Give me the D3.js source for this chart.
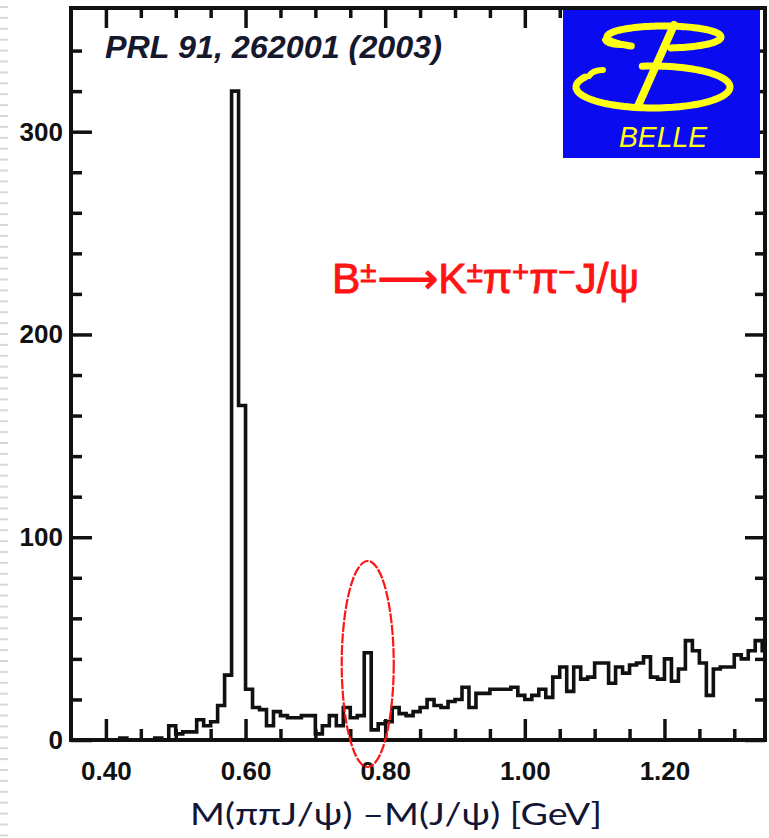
<!DOCTYPE html>
<html><head><meta charset="utf-8">
<script src="https://cdn.jsdelivr.net/npm/d3@7/dist/d3.min.js"></script>
<style>
html,body{margin:0;padding:0;background:#fff;}
svg{display:block;}
</style>
</head><body>
<svg id="chart" width="769" height="838"></svg>
<script>
// Histogram of M(pi pi J/psi) - M(J/psi), 10 MeV bins starting at 0.35 GeV
const binStart = 0.35;
const binWidth = 0.01;
const counts = [
  0, 0, 0, 0, 0, 0, 0, 1, 0, 0,
  0, 0, 1, 0, 7, 3, 4, 4, 10, 7,
  9, 17, 32, 320, 165, 25, 16, 15, 7, 14,
  12, 11, 11, 12, 12, 3, 7, 12, 7, 16,
  11, 12, 43, 5, 8, 9, 16, 13, 12, 14,
  16, 20, 17, 16, 19, 20, 26, 16, 23, 23,
  25, 25, 25, 26, 22, 20, 22, 25, 21, 31,
  36, 24, 36, 30, 31, 38, 38, 28, 36, 33,
  37, 38, 41, 31, 30, 40, 29, 35, 49, 44,
  38, 22, 35, 36, 36, 42, 40, 44, 49, 44
];

const xMajorTicks = [0.40, 0.60, 0.80, 1.00, 1.20];
const xMajorLabels = ["0.40", "0.60", "0.80", "1.00", "1.20"];
const xMinorTicks = [0.45, 0.50, 0.55, 0.65, 0.70, 0.75, 0.85, 0.90, 0.95, 1.05, 1.10, 1.15, 1.25, 1.30];
const yMajorTicks = [0, 100, 200, 300];
const yMajorLabels = ["0", "100", "200", "300"];
const yMinorTicks = [20, 40, 60, 80, 120, 140, 160, 180, 220, 240, 260, 280, 320, 340];

const citation = "PRL 91, 262001 (2003)";
const xTitle = "M(\u03c0\u03c0J/\u03c8) \u2013M(J/\u03c8) [GeV]";
const logoText = "BELLE";
const signalPeakMass = 0.775;

const svg = d3.select("#chart");
const W = 769, H = 838;
const plot = {left: 71, right: 765, top: 8, bottom: 740};

const x = d3.scaleLinear().domain([0.35, 1.344]).range([plot.left, plot.right]);
const y = d3.scaleLinear().domain([0, 361]).range([plot.bottom, plot.top]);

// slide margin decoration (light dashes down the left edge)
const marginRows = d3.range(7, H, 10.9);
svg.append("g").selectAll("line").data(marginRows).join("line")
  .attr("x1", 0).attr("x2", 8).attr("y1", d => d).attr("y2", d => d)
  .attr("stroke", "#d8d8d8").attr("stroke-width", 2);

// clip for the histogram
svg.append("clipPath").attr("id", "plotClip")
  .append("rect").attr("x", plot.left).attr("y", plot.top)
  .attr("width", plot.right - plot.left).attr("height", plot.bottom - plot.top);

// step histogram
const steps = counts.map((c, i) => [binStart + i * binWidth, c]);
steps.push([binStart + counts.length * binWidth, counts[counts.length - 1]]);
const stepLine = d3.line().x(d => x(d[0])).y(d => y(d[1])).curve(d3.curveStepAfter);
svg.append("path")
  .attr("clip-path", "url(#plotClip)")
  .attr("d", stepLine(steps))
  .attr("fill", "none").attr("stroke", "#111").attr("stroke-width", 3.6)
  .attr("stroke-linejoin", "miter");

// axes: ticks drawn inward on all four sides
const tickStyle = g => {
  g.select(".domain").remove();
  g.selectAll(".tick line").attr("stroke", "#111").attr("stroke-width", 3.5);
};
const labelStyle = g => {
  g.selectAll(".tick text")
    .attr("fill", "#111")
    .style("font-family", "'Liberation Sans', Arial, sans-serif")
    .style("font-weight", "bold")
    .style("font-size", "26px");
};

// bottom
svg.append("g").attr("transform", `translate(0,${plot.bottom})`)
  .call(d3.axisBottom(x).tickValues(xMajorTicks).tickSizeInner(-21).tickSizeOuter(0).tickPadding(22)
    .tickFormat((d, i) => xMajorLabels[i]))
  .call(tickStyle).call(labelStyle);
svg.append("g").attr("transform", `translate(0,${plot.bottom})`)
  .call(d3.axisBottom(x).tickValues(xMinorTicks).tickSizeInner(-11).tickSizeOuter(0).tickFormat(""))
  .call(tickStyle);
// top
svg.append("g").attr("transform", `translate(0,${plot.top})`)
  .call(d3.axisTop(x).tickValues(xMajorTicks).tickSizeInner(-20).tickSizeOuter(0).tickFormat(""))
  .call(tickStyle);
svg.append("g").attr("transform", `translate(0,${plot.top})`)
  .call(d3.axisTop(x).tickValues(xMinorTicks).tickSizeInner(-10).tickSizeOuter(0).tickFormat(""))
  .call(tickStyle);
// left
svg.append("g").attr("transform", `translate(${plot.left},0)`)
  .call(d3.axisLeft(y).tickValues(yMajorTicks).tickSizeInner(-21).tickSizeOuter(0).tickPadding(8)
    .tickFormat((d, i) => yMajorLabels[i]))
  .call(tickStyle).call(labelStyle);
svg.append("g").attr("transform", `translate(${plot.left},0)`)
  .call(d3.axisLeft(y).tickValues(yMinorTicks).tickSizeInner(-11).tickSizeOuter(0).tickFormat(""))
  .call(tickStyle);
// right
svg.append("g").attr("transform", `translate(${plot.right},0)`)
  .call(d3.axisRight(y).tickValues(yMajorTicks).tickSizeInner(-20).tickSizeOuter(0).tickFormat(""))
  .call(tickStyle);
svg.append("g").attr("transform", `translate(${plot.right},0)`)
  .call(d3.axisRight(y).tickValues(yMinorTicks).tickSizeInner(-10).tickSizeOuter(0).tickFormat(""))
  .call(tickStyle);

// frame
svg.append("rect")
  .attr("x", plot.left).attr("y", plot.top)
  .attr("width", plot.right - plot.left).attr("height", plot.bottom - plot.top)
  .attr("fill", "none").attr("stroke", "#111").attr("stroke-width", 4);

// citation
svg.append("text")
  .attr("x", 105).attr("y", 58)
  .attr("textLength", 337).attr("lengthAdjust", "spacingAndGlyphs")
  .style("font-family", "'Liberation Sans', Arial, sans-serif")
  .style("font-style", "italic")
  .style("font-weight", "bold")
  .style("font-size", "31px")
  .attr("fill", "#16182e")
  .text(citation);

// Belle logo
const logo = svg.append("g").attr("transform", "translate(563,10)");
logo.append("rect").attr("width", 197).attr("height", 148).attr("fill", "#0b0bf2");
const yellow = "#ffff14";
const arcPath = (cx, cy, rx, ry, a0, a1) => {
  const pts = d3.range(a0, a1 + 0.5, 3).map(a => {
    const t = a * Math.PI / 180;
    return [cx + rx * Math.cos(t), cy + ry * Math.sin(t)];
  });
  return d3.line()(pts);
};
// upper bowl
logo.append("path").attr("d", arcPath(101, 27, 57, 11, 125, 445))
  .attr("fill", "none").attr("stroke", yellow).attr("stroke-width", 7).attr("stroke-linecap", "round");
logo.append("path").attr("d", "M42,30 Q44,35 57,35")
  .attr("fill", "none").attr("stroke", yellow).attr("stroke-width", 6).attr("stroke-linecap", "round");
// lower bowl
logo.append("path").attr("d", arcPath(90, 77, 77, 21, 262, 568))
  .attr("fill", "none").attr("stroke", yellow).attr("stroke-width", 7).attr("stroke-linecap", "round");
logo.append("path").attr("d", "M40,60 Q30,60 26,66")
  .attr("fill", "none").attr("stroke", yellow).attr("stroke-width", 6).attr("stroke-linecap", "round");
// stem
logo.append("line").attr("x1", 111).attr("y1", 15).attr("x2", 75).attr("y2", 96)
  .attr("stroke", yellow).attr("stroke-width", 8).attr("stroke-linecap", "round");
logo.append("text")
  .attr("x", 56).attr("y", 137)
  .attr("textLength", 88).attr("lengthAdjust", "spacingAndGlyphs")
  .style("font-family", "'Liberation Sans', Arial, sans-serif")
  .style("font-style", "italic")
  .style("font-size", "29px")
  .attr("fill", yellow)
  .text(logoText);

// decay channel label
const red = "#ff1414";
const decay = svg.append("text")
  .attr("x", 0).attr("y", 0)
  .style("font-family", "'Liberation Sans', Arial, sans-serif")
  .style("font-size", "42px")
  .attr("fill", red).attr("stroke", red).attr("stroke-width", 0.9);
const sup = (s, dy) => decay.append("tspan").attr("dy", dy).style("font-size", "29px").text(s);
decay.append("tspan").text("B");
sup("\u00b1", -11);
decay.append("tspan").attr("dy", 11).attr("dx", 1).style("font-family", "'DejaVu Sans', sans-serif").text("\u27f6");
decay.append("tspan").text("K");
sup("\u00b1", -11);
decay.append("tspan").attr("dy", 11).text("\u03c0");
sup("+", -11);
decay.append("tspan").attr("dy", 11).text("\u03c0");
sup("\u2212", -11);
decay.append("tspan").attr("dy", 11).text("J/\u03c8");
const decayW = decay.node().getComputedTextLength();
decay.attr("transform", `translate(332,293) scale(${306 / decayW},1)`);

// ellipse around the structure near 0.775 GeV
svg.append("ellipse")
  .attr("cx", x(signalPeakMass)).attr("cy", 664)
  .attr("rx", 26).attr("ry", 103)
  .attr("fill", "none").attr("stroke", red).attr("stroke-width", 2.2)
  .attr("stroke-dasharray", "10 1.5");

// x-axis title
svg.append("text")
  .attr("x", 190).attr("y", 825)
  .attr("textLength", 412).attr("lengthAdjust", "spacingAndGlyphs")
  .style("font-family", "Lato, 'Open Sans', sans-serif")
  .style("font-size", "31px")
  .attr("fill", "#121535")
  .text(xTitle);
</script>
</body></html>
